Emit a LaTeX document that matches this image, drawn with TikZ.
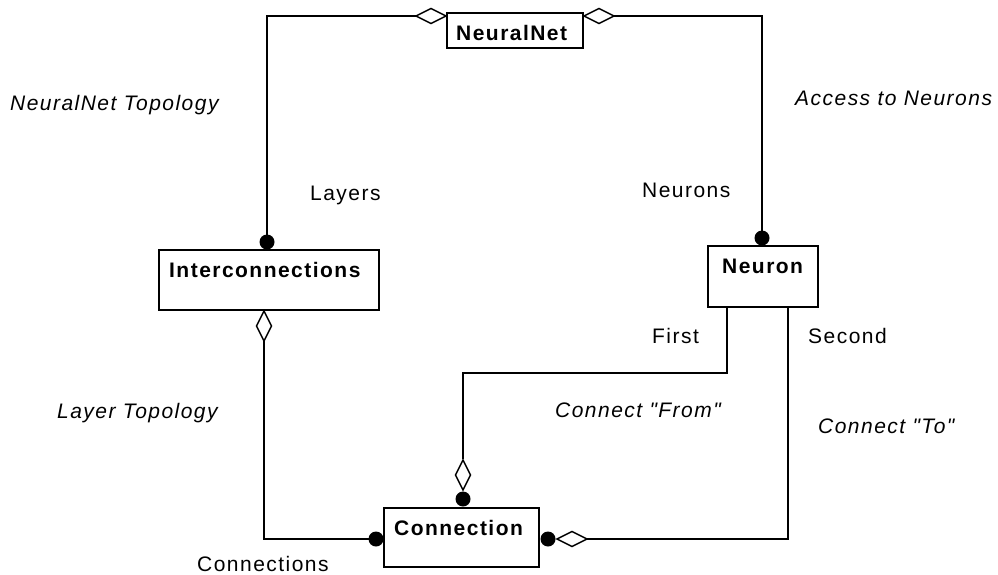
\documentclass[tikz,border=0pt]{standalone}
\usepackage{fontspec}
\setmainfont{Liberation Sans}[LetterSpace=7, Ligatures=TeXOff]
\usetikzlibrary{calc}

\begin{document}
\begin{tikzpicture}[x=1pt,y=-1pt,
  every node/.style={font=\fontsize{21}{25}\selectfont},
  cls/.style={draw, line width=2pt, inner sep=0pt, fill=white},
  clsname/.style={anchor=base west, inner sep=0pt, font=\fontsize{21}{25}\selectfont\bfseries},
  role/.style={anchor=base west, inner sep=0pt},
  assoc/.style={anchor=base west, inner sep=0pt, font=\fontsize{21}{25}\selectfont\itshape},
  link/.style={line width=2pt},
  odia/.pic={\draw[line width=1.4pt, fill=white] (0,0) -- (15,7.5) -- (30,0) -- (15,-7.5) -- cycle;},
  dot/.style={fill=black}]

\useasboundingbox (0,0) rectangle (998,575);

% class boxes
\node[cls, minimum width=136pt, minimum height=35pt] (nn) at (515,30.5) {};
\node[cls, minimum width=220pt, minimum height=60pt] (ic) at (269,280) {};
\node[cls, minimum width=110pt, minimum height=61pt] (ne) at (763,276.5) {};
\node[cls, minimum width=155pt, minimum height=59pt] (co) at (461.5,537.5) {};

% class names
\node[clsname] (nnT) at ($(nn.north west)+(10,28.5)$) {NeuralNet};
\node[clsname] (icT) at ($(ic.north west)+(11,28.5)$) {Interconnections};
\node[clsname] (neT) at ($(ne.north west)+(15,28.5)$) {Neuron};
\node[clsname] (coT) at ($(co.north west)+(11,28.5)$) {Connection};

% ports
\coordinate (nnL) at ($(nn.north west)+(0,4)$);
\coordinate (nnR) at ($(nn.north east)+(0,4)$);
\coordinate (icTop) at ($(ic.north)+(-2,0)$);
\coordinate (icBot) at ($(ic.south)+(-5,0)$);
\coordinate (neTop) at ($(ne.north)+(-1,0)$);
\coordinate (neBotL) at ($(ne.south west)+(20,0)$);
\coordinate (neBotR) at ($(ne.south west)+(81,0)$);
\coordinate (coTop) at ($(co.north west)+(80,0)$);
\coordinate (coL) at ($(co.west)+(0,1.5)$);
\coordinate (coR) at ($(co.east)+(0,1.5)$);

% connectors
\draw[link] ($(nnL)+(-30,0)$) -| ($(icTop)+(0,-10)$);
\draw[link] ($(nnR)+(30,0)$) -| ($(neTop)+(0,-10)$);
\draw[link] ($(icBot)+(0,30)$) |- ($(coL)+(-10,0)$);
\draw[link] ($(coTop)+(0,-48)$) |- ($(neBotL)+(0,65)$) -- (neBotL);
\draw[link] ($(coR)+(47,0)$) -| (neBotR);

% aggregation diamonds and filled ends
\pic[rotate=180] at (nnL) {odia};
\pic at (nnR) {odia};
\pic[rotate=-90] at (icBot) {odia};
\pic[rotate=90] at ($(coTop)+(0,-17)$) {odia};
\pic at ($(coR)+(17,0)$) {odia};
\fill[dot] ($(icTop)+(0,-7)$) circle (7.5);
\fill[dot] ($(neTop)+(0,-7)$) circle (7.5);
\fill[dot] ($(coTop)+(0,-8)$) circle (7.5);
\fill[dot] ($(coL)+(-7,0)$) circle (7.5);
\fill[dot] ($(coR)+(8,0)$) circle (7.5);

% role names
\node[role] (rLayers) at (310,200) {Layers};
\node[role] (rNeurons) at (642,197) {Neurons};
\node[role] (rFirst) at (652,343) {First};
\node[role] (rSecond) at (808,343) {Second};
\node[role] (rConn) at (197,571) {Connections};

% association names
\node[assoc] (aNT) at (10,111) {NeuralNet Topology};
\node[assoc] (aAN) at (795,106) {Access to Neurons};
\node[assoc] (aLT) at (57,418) {Layer Topology};
\node[assoc] (aCF) at (555,417) {Connect "From"};
\node[assoc] (aCT) at (818,433) {Connect "To"};
\end{tikzpicture}
\end{document}
